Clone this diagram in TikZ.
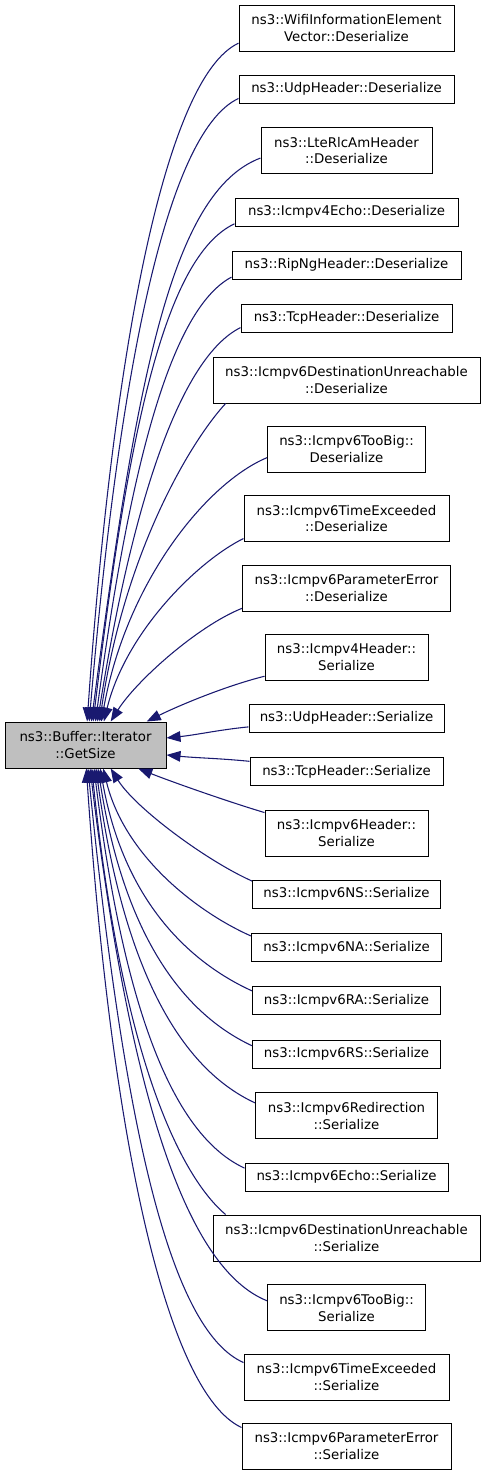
\documentclass[tikz,border=0pt]{standalone}
\usepackage{fontspec}
\setmainfont{DejaVu Sans}
\usepackage{tikz}
\usetikzlibrary{arrows.meta}
\definecolor{edgeblue}{RGB}{25,25,112}
\definecolor{mainfill}{RGB}{191,191,191}
\tikzset{
  fn/.style={draw=black, line width=0.75pt, fill=white, align=center,
    inner xsep=2pt, inner ysep=0pt, minimum height=21pt,
    font=\fontsize{10}{12.5}\selectfont},
  two/.style={minimum height=34.5pt},
  wd/.style={minimum width=#1*0.75pt},
  callarrow/.style={draw=edgeblue, line width=0.8pt, -{Triangle[length=10.5pt,width=8pt]}}
}

\begin{document}
\begin{tikzpicture}[x=0.75pt, y=-0.75pt]
\useasboundingbox (0,0) rectangle (485,1475);

% called function
\node[fn, two, wd=161, fill=mainfill] (main) at (85.5,745) {ns3::Buffer::Iterator\\::GetSize};

% callers: Deserialize
\node[fn, two, wd=215] (wifi)     at (346.5,28)    {ns3::WifiInformationElement\\Vector::Deserialize};
\node[fn, wd=215]      (udpd)     at (346.5,89)    {ns3::UdpHeader::Deserialize};
\node[fn, two, wd=171] (lte)      at (346.5,150.5) {ns3::LteRlcAmHeader\\::Deserialize};
\node[fn, wd=223]      (vfourecho) at (346.5,212)  {ns3::Icmpv4Echo::Deserialize};
\node[fn, wd=229]      (ripng)    at (346.5,265)   {ns3::RipNgHeader::Deserialize};
\node[fn, wd=211]      (tcpd)     at (346.5,318.3) {ns3::TcpHeader::Deserialize};
\node[fn, two, wd=267] (dud)      at (346.5,380)   {ns3::Icmpv6DestinationUnreachable\\::Deserialize};
\node[fn, two, wd=158] (toobigd)  at (346.5,449.3) {ns3::Icmpv6TooBig::\\Deserialize};
\node[fn, two, wd=205] (timed)    at (346.5,518.5) {ns3::Icmpv6TimeExceeded\\::Deserialize};
\node[fn, two, wd=208] (paramd)   at (346.5,588)   {ns3::Icmpv6ParameterError\\::Deserialize};

% callers: Serialize
\node[fn, two, wd=163] (vfourhdr) at (346.5,657.3) {ns3::Icmpv4Header::\\Serialize};
\node[fn, wd=195]      (udps)     at (346.5,718.3) {ns3::UdpHeader::Serialize};
\node[fn, wd=193]      (tcps)     at (346.5,771.5) {ns3::TcpHeader::Serialize};
\node[fn, two, wd=163] (vsixhdr)  at (346.5,833)   {ns3::Icmpv6Header::\\Serialize};
\node[fn, wd=188]      (ns)       at (346.5,894.3) {ns3::Icmpv6NS::Serialize};
\node[fn, wd=190]      (na)       at (346.5,947.7) {ns3::Icmpv6NA::Serialize};
\node[fn, wd=188]      (ra)       at (346.5,1000.8) {ns3::Icmpv6RA::Serialize};
\node[fn, wd=188]      (rs)       at (346.5,1054)  {ns3::Icmpv6RS::Serialize};
\node[fn, two, wd=182] (redir)    at (346.5,1115.7) {ns3::Icmpv6Redirection\\::Serialize};
\node[fn, wd=203]      (echo)     at (346.5,1177)  {ns3::Icmpv6Echo::Serialize};
\node[fn, two, wd=267] (dus)      at (346.5,1238)  {ns3::Icmpv6DestinationUnreachable\\::Serialize};
\node[fn, two, wd=158] (toobigs)  at (346.5,1307.7) {ns3::Icmpv6TooBig::\\Serialize};
\node[fn, two, wd=205] (times)    at (346.5,1377)  {ns3::Icmpv6TimeExceeded\\::Serialize};
\node[fn, two, wd=209] (params)   at (346.5,1446)  {ns3::Icmpv6ParameterError\\::Serialize};

% calls from above
\draw[callarrow] (wifi.188)      .. controls +(-75,35) and +(25,-360) .. (main.86);
\draw[callarrow] (udpd.185)      .. controls +(-75,35) and +(28,-330) .. (main.81);
\draw[callarrow] (lte.185)       .. controls +(-90,34) and +(45,-340) .. (main.76.5);
\draw[callarrow] (vfourecho.186) .. controls +(-70,33) and +(35,-290) .. (main.72);
\draw[callarrow] (ripng.186.5)   .. controls +(-60,32) and +(35,-260) .. (main.67.6);
\draw[callarrow] (tcpd.185)      .. controls +(-60,30) and +(35,-220) .. (main.63.4);
\draw[callarrow] (dud.191)       .. controls +(-35,38) and +(25,-170) .. (main.59.6);
\draw[callarrow] (toobigd.186)   .. controls +(-60,25) and +(25,-140) .. (main.56);
\draw[callarrow] (timed.191.5)   .. controls +(-45,22) and +(22,-90) .. (main.52.7);
\draw[callarrow] (paramd.191.5)  .. controls +(-45,18) and +(25,-40) .. (main.43);
\draw[callarrow] (vfourhdr.193)  .. controls +(-40,10) and +(30,-15) .. (main.21);

% calls from the side
\draw[callarrow] (udps.185.7)    .. controls +(-30,3) and +(30,-3) .. (main.5.7);
\draw[callarrow] (tcps.174.2)    .. controls +(-30,-3) and +(30,3) .. (main.353.6);
\draw[callarrow] (vsixhdr.166.4) .. controls +(-40,-12) and +(30,12) .. (main.336.3);

% calls from below
\draw[callarrow] (ns.172.4)      .. controls +(-45,-20) and +(25,40) .. (main.317);
\draw[callarrow] (na.173.8)      .. controls +(-50,-22) and +(22,90) .. (main.307.3);
\draw[callarrow] (ra.174.5)      .. controls +(-55,-25) and +(25,140) .. (main.302.2);
\draw[callarrow] (rs.175.6)      .. controls +(-60,-28) and +(28,180) .. (main.298.5);
\draw[callarrow] (redir.172.9)   .. controls +(-65,-30) and +(30,220) .. (main.294.5);
\draw[callarrow] (echo.175.1)    .. controls +(-65,-30) and +(32,260) .. (main.290.3);
\draw[callarrow] (dus.169)       .. controls +(-45,-38) and +(30,290) .. (main.285.8);
\draw[callarrow] (toobigs.175.6) .. controls +(-80,-32) and +(40,330) .. (main.281.1);
\draw[callarrow] (times.172.5)   .. controls +(-75,-33) and +(35,350) .. (main.276.2);
\draw[callarrow] (params.170.9)  .. controls +(-75,-35) and +(25,370) .. (main.272.5);
\end{tikzpicture}
\end{document}
